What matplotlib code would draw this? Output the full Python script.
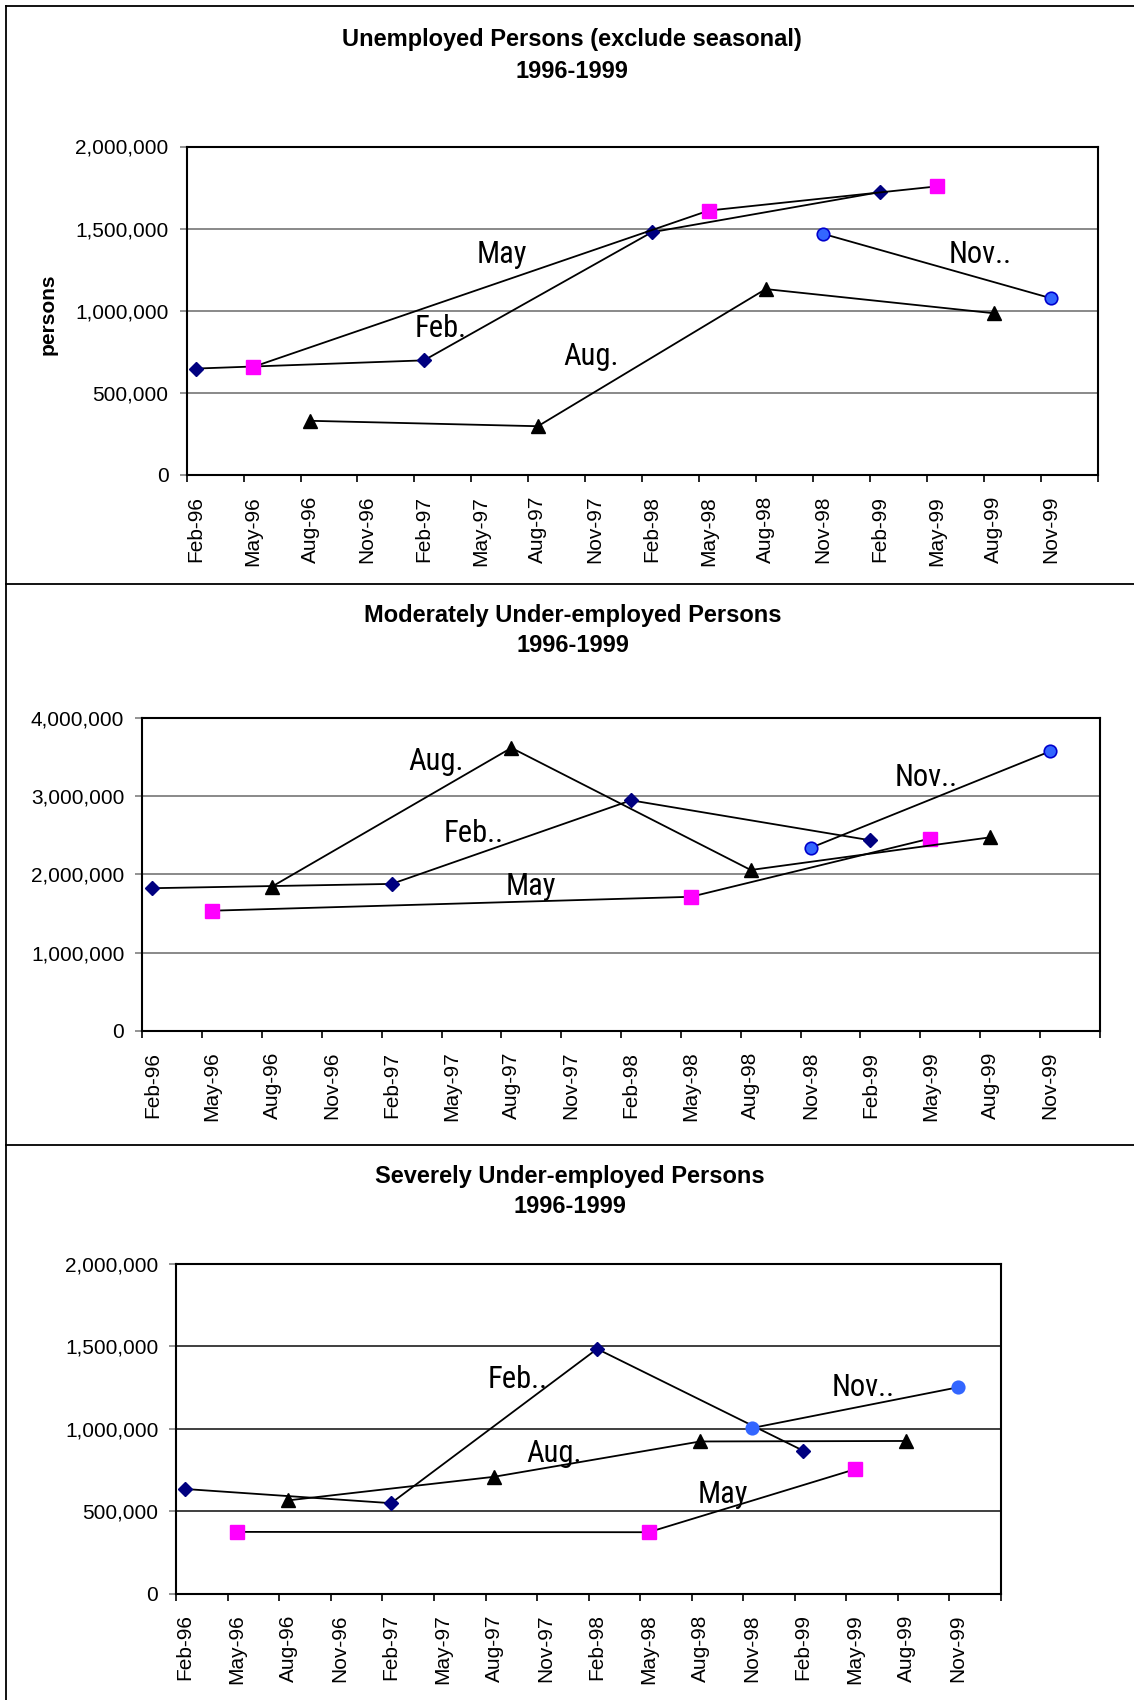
import matplotlib
matplotlib.use('Agg')
import matplotlib.pyplot as plt
from matplotlib import font_manager
from matplotlib.font_manager import FontProperties
from matplotlib.lines import Line2D
from matplotlib.ticker import FixedLocator, FuncFormatter, NullFormatter
import numpy as np

# quarter labels on the x axis, one every 3 months from Feb-96
quarters = ['Feb-96', 'May-96', 'Aug-96', 'Nov-96', 'Feb-97', 'May-97', 'Aug-97', 'Nov-97',
            'Feb-98', 'May-98', 'Aug-98', 'Nov-98', 'Feb-99', 'May-99', 'Aug-99', 'Nov-99']

# survey rounds for each series
feb_dates = ['Feb-96', 'Feb-97', 'Feb-98', 'Feb-99']
may_dates = ['May-96', 'May-98', 'May-99']
aug_dates = ['Aug-96', 'Aug-97', 'Aug-98', 'Aug-99']
nov_dates = ['Nov-98', 'Nov-99']

# unemployed persons
unemp_feb = [648000, 698000, 1478000, 1722000]
unemp_may = [658000, 1610000, 1757000]
unemp_aug = [330000, 297000, 1132000, 985000]
unemp_nov = [1469000, 1077000]

# moderately under-employed
mod_feb = [1824000, 1879000, 2949000, 2437000]
mod_may = [1536000, 1714000, 2460000]
mod_aug = [1845000, 3620000, 2057000, 2475000]
mod_nov = [2340000, 3575000]

# severely under-employed
sev_feb = [634000, 548000, 1483000, 866000]
sev_may = [374000, 372000, 753000]
sev_aug = [565000, 708000, 922000, 925000]
sev_nov = [1003000, 1250000]

W, H = 1134, 1700

plt.rcParams['font.family'] = ['Liberation Sans', 'DejaVu Sans']


def pick_narrow():
    # look for a narrow/condensed regular sans for the series labels
    prefs = ['liberation sans narrow', 'arial narrow', 'roboto condensed', 'noto sans condensed',
             'open sans condensed', 'dejavu sans condensed']
    found = []
    for f in font_manager.fontManager.ttflist:
        name = f.name.lower()
        fname = f.fname.lower()
        narrowish = ('narrow' in name or 'condensed' in name or 'condensed' in fname
                     or 'narrow' in fname or f.stretch in ('condensed', 'semi-condensed',
                                                           'extra-condensed'))
        if not narrowish or f.style != 'normal':
            continue
        if f.weight not in (400, 'normal', 'regular', 'book'):
            continue
        if 'mono' in name or 'serif' in name and 'sans' not in name:
            continue
        rank = len(prefs)
        for i, p in enumerate(prefs):
            if p in name or p.replace(' ', '') in fname.replace('-', ''):
                rank = i
                break
        found.append((rank, f.fname))
    if found:
        found.sort()
        return FontProperties(fname=found[0][1], size=22)
    return FontProperties(family='DejaVu Sans', stretch='condensed', size=22)


narrow = pick_narrow()


def month_pos(labels):
    # points sit in the middle of their month on the date axis
    return np.array([quarters.index(l) * 3 + 0.5 for l in labels])


def px_axes(left, right, top, bottom):
    return fig.add_axes([left / W, 1 - bottom / H, (right - left) / W, (bottom - top) / H])


def draw_panel(ax, feb, may, aug, nov, ymax, ystep, gridcolor, nov_edge):
    ax.plot(month_pos(feb_dates), feb, color='black', lw=1.3, marker='D', ms=6.8,
            mfc='#000080', mec='#000080', zorder=3)
    ax.plot(month_pos(may_dates), may, color='black', lw=1.3, marker='s', ms=9.5,
            mfc='#FF00FF', mec='#FF00FF', zorder=3)
    ax.plot(month_pos(aug_dates), aug, color='black', lw=1.3, marker='^', ms=9.5,
            mfc='black', mec='black', zorder=3)
    ax.plot(month_pos(nov_dates), nov, color='black', lw=1.3, marker='o', ms=9,
            mfc='#3366FF', mec=nov_edge, mew=1.2, zorder=3)

    ax.set_xlim(0, 48)
    ax.set_ylim(0, ymax)
    ax.xaxis.set_major_locator(FixedLocator(np.arange(0, 49, 3)))
    ax.xaxis.set_major_formatter(NullFormatter())
    ax.xaxis.set_minor_locator(FixedLocator(np.arange(0.5, 48, 3)))
    ax.set_xticklabels(quarters, minor=True, rotation=90, fontsize=15)
    ax.tick_params(axis='x', which='major', direction='out', length=5, width=1.2)
    ax.tick_params(axis='x', which='minor', length=0, pad=15)

    ax.set_yticks(np.arange(0, ymax + 1, ystep))
    ax.yaxis.set_major_formatter(FuncFormatter(lambda v, p: f'{v:,.0f}'))
    ax.tick_params(axis='y', direction='out', length=5, width=1.2, pad=8, labelsize=15,
                   color='#808080')
    ax.yaxis.grid(True, color=gridcolor, lw=1.3)
    ax.set_axisbelow(True)
    for s in ax.spines.values():
        s.set_color('black')
        s.set_linewidth(1.5)


def label(ax, x, y, txt):
    ax.text(x, y, txt, fontproperties=narrow, ha='center', va='center', zorder=4)


fig = plt.figure(figsize=(W / 100, H / 100), dpi=100)

# chart-area borders
for y in [6, 584, 1145]:
    fig.add_artist(Line2D([6 / W, 1], [1 - y / H, 1 - y / H], color='black', lw=1.3,
                          transform=fig.transFigure))
fig.add_artist(Line2D([6 / W, 6 / W], [0, 1 - 6 / H], color='black', lw=1.3,
                      transform=fig.transFigure))

# unemployed
ax1 = px_axes(186.6, 1098, 146.5, 475)
draw_panel(ax1, unemp_feb, unemp_may, unemp_aug, unemp_nov, 2000000, 500000,
           '#808080', '#0000CC')
ax1.set_ylabel('persons', fontsize=15, fontweight='bold')
ax1.yaxis.set_label_coords(-0.142, 0.49)
label(ax1, 16.6, 1340000, 'May')
label(ax1, 13.4, 890000, 'Feb.')
label(ax1, 21.3, 720000, 'Aug.')
label(ax1, 41.8, 1340000, 'Nov..')
fig.text(572 / W, 1 - 39.5 / H, 'Unemployed Persons (exclude seasonal)', ha='center',
         va='center', fontsize=17, fontweight='bold')
fig.text(572 / W, 1 - 71 / H, '1996-1999', ha='center', va='center', fontsize=17,
         fontweight='bold')

# moderately under-employed
ax2 = px_axes(142.4, 1099.8, 718.2, 1030.7)
draw_panel(ax2, mod_feb, mod_may, mod_aug, mod_nov, 4000000, 1000000,
           '#808080', '#0000CC')
label(ax2, 14.7, 3440000, 'Aug.')
label(ax2, 16.6, 2530000, 'Feb..')
label(ax2, 19.5, 1840000, 'May')
label(ax2, 39.3, 3240000, 'Nov..')
fig.text(572.7 / W, 1 - 615.7 / H, 'Moderately Under-employed Persons', ha='center',
         va='center', fontsize=17, fontweight='bold')
fig.text(572.7 / W, 1 - 646 / H, '1996-1999', ha='center', va='center', fontsize=17,
         fontweight='bold')

# severely under-employed
ax3 = px_axes(176.4, 1000.7, 1263.6, 1593.6)
draw_panel(ax3, sev_feb, sev_may, sev_aug, sev_nov, 2000000, 500000,
           '#303030', '#3366FF')
label(ax3, 19.85, 1300000, 'Feb..')
label(ax3, 40.0, 1247000, 'Nov..')
label(ax3, 22.0, 852000, 'Aug.')
label(ax3, 31.8, 600000, 'May')
fig.text(570 / W, 1 - 1176.8 / H, 'Severely Under-employed Persons', ha='center',
         va='center', fontsize=17, fontweight='bold')
fig.text(570 / W, 1 - 1206.8 / H, '1996-1999', ha='center', va='center', fontsize=17,
         fontweight='bold')

fig.savefig('out.png', dpi=100)
